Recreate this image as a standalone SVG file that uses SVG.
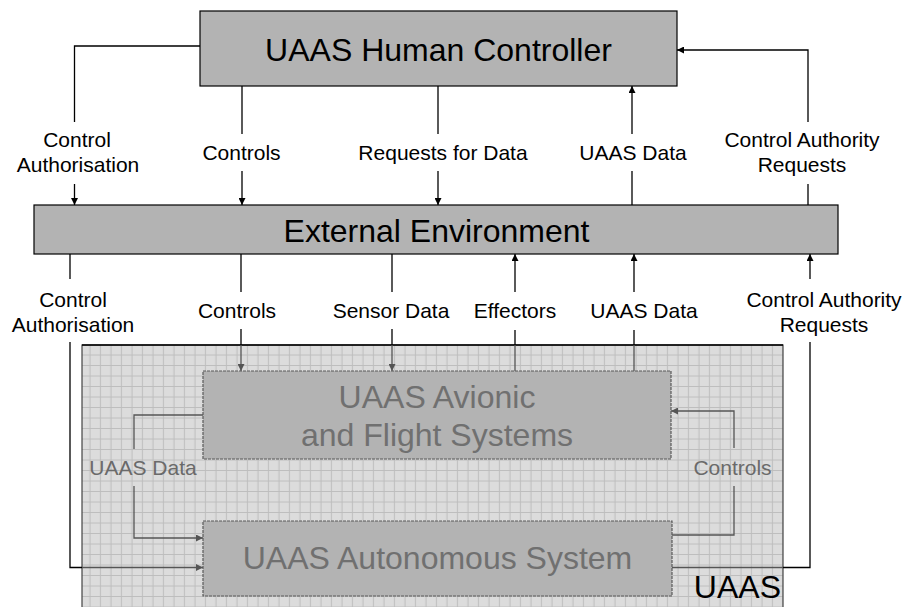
<svg xmlns="http://www.w3.org/2000/svg" width="907" height="607" viewBox="0 0 907 607">
  <defs>
    <style>
      .box { fill: #b3b3b3; stroke: #000; stroke-width: 1.2; }
      .inbox { fill: #b3b3b3; stroke: #5a5a5a; stroke-width: 1.2; stroke-dasharray: 3 1; }
      .title { font-family: "Liberation Sans", Arial, sans-serif; font-size: 32px; fill: #000; text-anchor: middle; }
      .intitle { font-family: "Liberation Sans", Arial, sans-serif; font-size: 32px; fill: #707070; text-anchor: middle; }
      .lbl { font-family: "Liberation Sans", Arial, sans-serif; font-size: 21px; fill: #000; text-anchor: middle; }
      .inlbl { font-family: "Liberation Sans", Arial, sans-serif; font-size: 21px; fill: #6a6a6a; text-anchor: middle; }
      .wire { fill: none; stroke: #000; stroke-width: 1.3; }
      .inwire { fill: none; stroke: #555; stroke-width: 1.3; }
    </style>
    <marker id="arr" viewBox="0 0 8 8" refX="8" refY="4" markerWidth="7" markerHeight="7" markerUnits="userSpaceOnUse" orient="auto">
      <path d="M0,0 L8,4 L0,8 z" fill="#000"/>
    </marker>
    <marker id="arrg" viewBox="0 0 8 8" refX="8" refY="4" markerWidth="7" markerHeight="7" markerUnits="userSpaceOnUse" orient="auto">
      <path d="M0,0 L8,4 L0,8 z" fill="#555"/>
    </marker>
    <pattern id="grid" x="82" y="345" width="10.5" height="10.5" patternUnits="userSpaceOnUse">
      <rect width="10.5" height="10.5" fill="#dcdcdc"/>
      <path d="M8,0 V10.5 M0,10 H10.5" stroke="#bdbdbd" stroke-width="1"/>
    </pattern>
  </defs>

  <!-- UAAS boundary region -->
  <g id="uaas-region">
    <rect x="82" y="345" width="701" height="270" fill="url(#grid)" stroke="#444" stroke-width="1.2"/>
    <line x1="82" y1="345" x2="783" y2="345" stroke="#000" stroke-width="1.4"/>
    <text x="781" y="598" class="title" style="text-anchor:end">UAAS</text>
  </g>

  <!-- Connectors -->
  <g id="connectors">
    <!-- Human Controller -> External Environment -->
    <path class="wire" d="M200,46 H74.5 V122"/>
    <path class="wire" d="M74.5,184 V205" marker-end="url(#arr)"/>
    <path class="wire" d="M242,86 V134"/>
    <path class="wire" d="M242,171 V205" marker-end="url(#arr)"/>
    <path class="wire" d="M438,86 V134"/>
    <path class="wire" d="M438,171 V205" marker-end="url(#arr)"/>
    <!-- External Environment -> Human Controller -->
    <path class="wire" d="M632,205 V171"/>
    <path class="wire" d="M632,134 V86" marker-end="url(#arr)"/>
    <path class="wire" d="M808,205 V184"/>
    <path class="wire" d="M808,122 V50 H677" marker-end="url(#arr)"/>

    <!-- External Environment -> UAAS -->
    <path class="wire" d="M70,254 V279"/>
    <path class="wire" d="M70,342 V567.5 H82"/>
    <path class="inwire" d="M82,567.5 H203" marker-end="url(#arrg)"/>
    <path class="wire" d="M241,254 V292"/>
    <path class="wire" d="M241,329 V345"/>
    <path class="inwire" d="M241,345 V371" marker-end="url(#arrg)"/>
    <path class="wire" d="M392,254 V292"/>
    <path class="wire" d="M392,329 V345"/>
    <path class="inwire" d="M392,345 V371" marker-end="url(#arrg)"/>
    <!-- UAAS -> External Environment -->
    <path class="inwire" d="M515,371 V345"/>
    <path class="wire" d="M515,345 V330"/>
    <path class="wire" d="M515,292 V254" marker-end="url(#arr)"/>
    <path class="inwire" d="M634,371 V345"/>
    <path class="wire" d="M634,345 V330"/>
    <path class="wire" d="M634,292 V254" marker-end="url(#arr)"/>
    <path class="inwire" d="M672,567.5 H783"/>
    <path class="wire" d="M783,567.5 H810 V342"/>
    <path class="wire" d="M810,279 V254" marker-end="url(#arr)"/>

    <!-- Inside UAAS -->
    <path class="inwire" d="M203,415 H134 V449"/>
    <path class="inwire" d="M134,486 V538 H203" marker-end="url(#arrg)"/>
    <path class="inwire" d="M672,535 H734 V486"/>
    <path class="inwire" d="M734,448 V411 H671" marker-end="url(#arrg)"/>

    <!-- Labels -->
    <text class="lbl" x="77" y="147">Control</text>
    <text class="lbl" x="78" y="172">Authorisation</text>
    <text class="lbl" x="241.5" y="160">Controls</text>
    <text class="lbl" x="443" y="160">Requests for Data</text>
    <text class="lbl" x="633" y="160">UAAS Data</text>
    <text class="lbl" x="802" y="147">Control Authority</text>
    <text class="lbl" x="802" y="172">Requests</text>

    <text class="lbl" x="73" y="307">Control</text>
    <text class="lbl" x="73" y="332">Authorisation</text>
    <text class="lbl" x="237" y="318">Controls</text>
    <text class="lbl" x="391" y="318">Sensor Data</text>
    <text class="lbl" x="515" y="318">Effectors</text>
    <text class="lbl" x="644" y="318">UAAS Data</text>
    <text class="lbl" x="824" y="307">Control Authority</text>
    <text class="lbl" x="824" y="332">Requests</text>

    <text class="inlbl" x="143" y="475">UAAS Data</text>
    <text class="inlbl" x="732.5" y="475">Controls</text>
  </g>

  <!-- Nodes -->
  <g id="human-controller">
    <rect class="box" x="200" y="11" width="477" height="75"/>
    <text class="title" x="438.5" y="61">UAAS Human Controller</text>
  </g>

  <g id="external-environment">
    <rect class="box" x="34" y="205" width="804" height="49"/>
    <text class="title" x="436.5" y="242">External Environment</text>
  </g>

  <g id="avionic-flight-systems">
    <rect class="inbox" x="203" y="371" width="468" height="88"/>
    <text class="intitle" x="437" y="408">UAAS Avionic</text>
    <text class="intitle" x="437" y="446">and Flight Systems</text>
  </g>

  <g id="autonomous-system">
    <rect class="inbox" x="203" y="521" width="469" height="75"/>
    <text class="intitle" x="437.5" y="569">UAAS Autonomous System</text>
  </g>
</svg>
